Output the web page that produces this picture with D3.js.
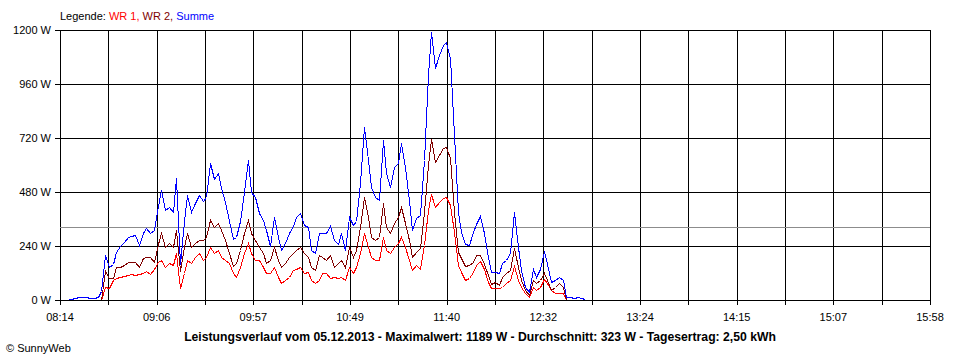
<!DOCTYPE html>
<html>
<head>
<meta charset="utf-8">
<script src="https://cdn.jsdelivr.net/npm/d3@7"></script>
<style>
    body { margin: 0; background: #fff; }
    svg { display: block; }
    text { font-family: "Liberation Sans", Arial, sans-serif; }
</style>
</head>
<body>
<div class="chart"></div>
<script>
// minutes since midnight, one sample every 2 minutes starting 08:18
const startMinute = 498;
const stepMinutes = 2;

const summe = [5, 5, 10, 12, 12, 12, 10, 10, 12, 40,
    200, 148, 160, 215, 240, 260, 279, 283, 287, 244,
    296, 318, 300, 310, 420, 489, 400, 413, 390, 542,
    160, 350, 467, 390, 430, 467, 440, 460, 609, 540,
    564, 498, 435, 350, 270, 280, 350, 480, 620, 480,
    460, 386, 356, 311, 240, 370, 281, 222, 252, 297,
    330, 370, 386, 335, 326, 222, 207, 300, 297, 300,
    330, 267, 250, 296, 222, 370, 333, 350, 520, 770,
    622, 504, 459, 444, 710, 564, 504, 592, 609, 700,
    592, 440, 311, 364, 380, 620, 1000, 1189, 1030, 1089,
    1133, 1148, 1075, 733, 391, 302, 250, 244, 302, 340,
    375, 300, 190, 125, 124, 120, 163, 178, 207, 390,
    237, 133, 59, 35, 140, 104, 140, 220, 160, 80,
    90, 104, 89, 15, 12, 8, 12, 8, 5];

const wr1 = [0, 0, 0, 0, 0, 0, 0, 0, 0, 0,
    58, 53, 89, 98, 104, 107, 111, 116, 111, 116,
    121, 130, 116, 140, 170, 180, 148, 163, 155, 207,
    55, 118, 178, 163, 193, 207, 178, 193, 237, 207,
    222, 193, 178, 163, 120, 104, 148, 207, 252, 207,
    178, 178, 148, 118, 118, 148, 104, 74, 89, 104,
    133, 138, 148, 118, 126, 89, 74, 89, 118, 120,
    100, 104, 96, 104, 89, 148, 118, 148, 207, 296,
    237, 193, 178, 178, 281, 222, 207, 237, 252, 281,
    237, 178, 133, 156, 140, 244, 400, 470, 415, 437,
    452, 459, 422, 304, 156, 126, 90, 96, 126, 156,
    175, 140, 80, 55, 52, 52, 59, 74, 89, 150,
    89, 59, 30, 15, 59, 44, 59, 95, 74, 44,
    30, 30, 30, 0, 0, 0, 0, 0, 0];

const wr2 = [0, 0, 0, 0, 0, 0, 0, 0, 0, 0,
    130, 98, 100, 148, 148, 156, 170, 170, 168, 148,
    185, 193, 193, 170, 250, 300, 237, 252, 237, 311,
    130, 237, 296, 237, 252, 267, 267, 278, 356, 326,
    341, 311, 267, 207, 150, 163, 222, 296, 356, 296,
    267, 237, 207, 163, 178, 237, 178, 148, 163, 193,
    207, 222, 237, 207, 193, 148, 133, 200, 193, 180,
    200, 148, 163, 178, 148, 237, 193, 222, 326, 459,
    370, 281, 267, 281, 430, 326, 296, 341, 370, 415,
    341, 267, 193, 215, 230, 393, 600, 715, 615, 644,
    674, 681, 630, 393, 215, 185, 150, 156, 170, 200,
    200, 160, 110, 70, 81, 67, 104, 119, 133, 230,
    148, 89, 44, 22, 89, 74, 89, 120, 89, 44,
    60, 74, 59, 0, 0, 0, 0, 0, 0];

const xLabels = ["08:14", "09:06", "09:57", "10:49", "11:40", "12:32", "13:24", "14:15", "15:07", "15:58"];
const yTicks = [0, 240, 480, 720, 960, 1200];
const average = 323;
const titleText = "Leistungsverlauf vom 05.12.2013 - Maximalwert: 1189 W - Durchschnitt: 323 W - Tagesertrag: 2,50 kWh";

const width = 960, height = 360;
const margin = { top: 30, right: 30, bottom: 60, left: 60 };

const svg = d3.select(".chart").append("svg")
    .attr("width", width)
    .attr("height", height);

const x = d3.scaleLinear()
    .domain([494, 958])
    .range([margin.left, width - margin.right]);
const y = d3.scaleLinear()
    .domain([0, 1200])
    .range([height - margin.bottom, margin.top]);

const px = v => Math.round(v) + 0.5;
const xTickValues = d3.range(19).map(k => 494 + k * 464 / 18);

// grid
const grid = svg.append("g").attr("shape-rendering", "crispEdges");
grid.selectAll(".vgrid")
    .data(xTickValues)
    .join("line")
    .attr("x1", d => px(x(d)))
    .attr("x2", d => px(x(d)))
    .attr("y1", y(1200))
    .attr("y2", y(0) + 5)
    .attr("stroke", "#000");
grid.selectAll(".hgrid")
    .data(yTicks)
    .join("line")
    .attr("x1", x(494) - 5)
    .attr("x2", x(958))
    .attr("y1", d => px(y(d)))
    .attr("y2", d => px(y(d)))
    .attr("stroke", "#000");

// average line
svg.append("line")
    .attr("shape-rendering", "crispEdges")
    .attr("x1", x(494))
    .attr("x2", x(958))
    .attr("y1", px(y(average)))
    .attr("y2", px(y(average)))
    .attr("stroke", "#8c8c8c");

// series
const times = summe.map((d, i) => startMinute + i * stepMinutes);
const line = d3.line()
    .x((d, i) => px(x(times[i])))
    .y(d => px(y(d)));

[[wr1, "#ff0000"], [wr2, "#800000"], [summe, "#0000ff"]].forEach(([values, color]) => {
    svg.append("path")
        .datum(values)
        .attr("fill", "none")
        .attr("stroke", color)
        .attr("stroke-width", 1)
        .attr("shape-rendering", "crispEdges")
        .attr("d", line);
});

// x axis line on top so zero values hide under it
svg.append("line")
    .attr("shape-rendering", "crispEdges")
    .attr("x1", x(494) - 5)
    .attr("x2", x(958))
    .attr("y1", px(y(0)))
    .attr("y2", px(y(0)))
    .attr("stroke", "#000");

// axis labels
svg.append("g")
    .selectAll("text")
    .data(xLabels)
    .join("text")
    .attr("x", (d, i) => x(xTickValues[i * 2]))
    .attr("y", 321)
    .attr("text-anchor", "middle")
    .attr("font-size", 11)
    .text(d => d);

svg.append("g")
    .selectAll("text")
    .data(yTicks)
    .join("text")
    .attr("x", 51)
    .attr("y", d => y(d) + 4)
    .attr("text-anchor", "end")
    .attr("font-size", 11)
    .text(d => `${d} W`);

// legend
const legend = svg.append("text")
    .attr("x", 60)
    .attr("y", 20)
    .attr("font-size", 11);
legend.append("tspan").attr("fill", "#000").text("Legende: ");
legend.append("tspan").attr("fill", "#ff0000").text("WR 1, ");
legend.append("tspan").attr("fill", "#800000").text("WR 2, ");
legend.append("tspan").attr("fill", "#0000ff").text("Summe");

// title and copyright
svg.append("text")
    .attr("x", 480)
    .attr("y", 341)
    .attr("text-anchor", "middle")
    .attr("font-size", 12.2)
    .attr("font-weight", "bold")
    .text(titleText);

svg.append("text")
    .attr("x", 6)
    .attr("y", 352)
    .attr("font-size", 11)
    .text("\u00a9 SunnyWeb");
</script>
</body>
</html>
